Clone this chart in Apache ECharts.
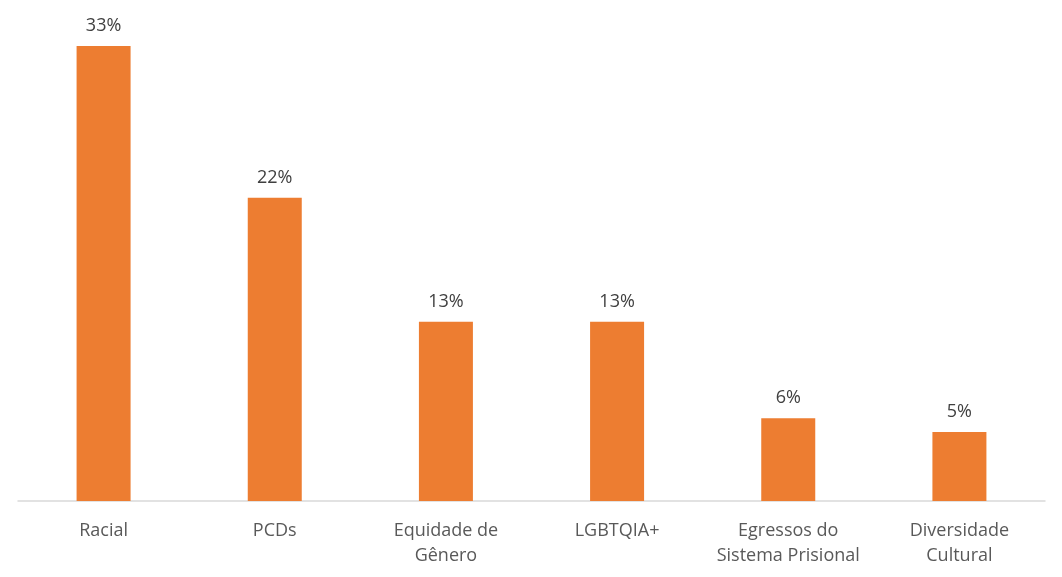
<!DOCTYPE html>
<html><head><meta charset="utf-8">
<script src="https://cdn.jsdelivr.net/npm/echarts@6/dist/echarts.min.js"></script>
<style>html,body{margin:0;padding:0;background:#fff}#c{width:1062px;height:577px}</style>
</head><body><div id="c"></div>
<script>
const categories = ['Racial','PCDs','Equidade de\nGênero','LGBTQIA+','Egressos do\nSistema Prisional','Diversidade\nCultural'];
const values = [33, 22, 13, 13, 6, 5];
const chart = echarts.init(document.getElementById('c'));
chart.setOption({
  animation: false,
  grid: {left: 18, right: 17, top: 46, bottom: 76, containLabel: false},
  xAxis: {
    type: 'category', data: categories,
    axisLine: {lineStyle: {color: '#D9D9D9', width: 1.5}},
    axisTick: {show: false},
    axisLabel: {color: '#595959', fontSize: 18, fontFamily: 'Open Sans', margin: 17, lineHeight: 25, interval: 0}
  },
  yAxis: {type: 'value', min: 0, max: 33, show: false, splitLine: {show: false}},
  series: [{
    type: 'bar', data: values, barWidth: 54,
    itemStyle: {color: '#ED7D31'},
    label: {show: true, position: 'top', distance: 11, formatter: '{c}%', color: '#404040', fontSize: 18, fontFamily: 'Open Sans'}
  }]
});
</script></body></html>
